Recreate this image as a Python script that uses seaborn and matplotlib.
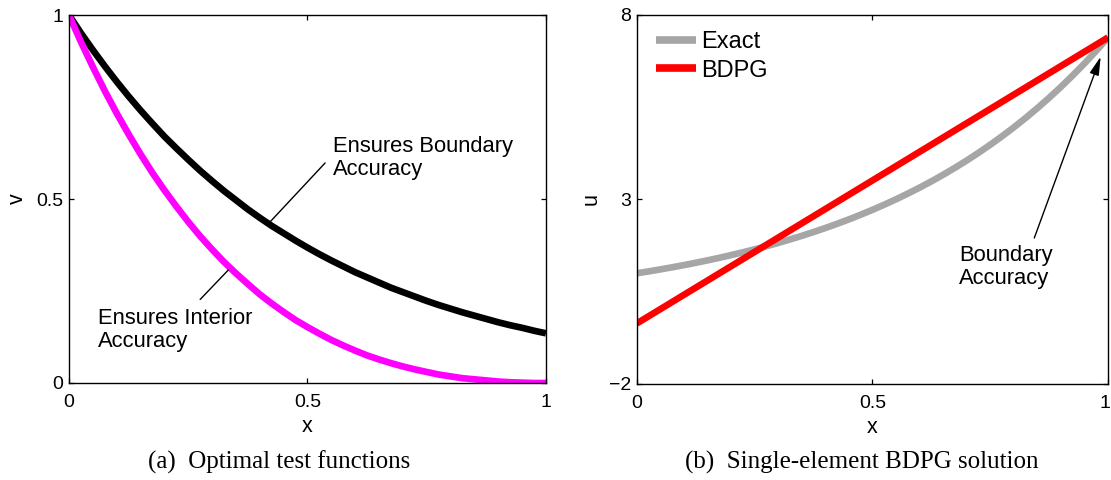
import matplotlib
matplotlib.use("Agg")
import matplotlib.pyplot as plt
import matplotlib.transforms as mtransforms
import seaborn as sns
import pandas as pd

# sample positions along the element
x_pts = [0.0, 0.025, 0.05, 0.075, 0.1, 0.125, 0.15, 0.175, 0.2, 0.225, 0.25,
         0.275, 0.3, 0.325, 0.35, 0.375, 0.4, 0.425, 0.45, 0.475, 0.5,
         0.525, 0.55, 0.575, 0.6, 0.625, 0.65, 0.675, 0.7, 0.725, 0.75,
         0.775, 0.8, 0.825, 0.85, 0.875, 0.9, 0.925, 0.95, 0.975, 1.0]

# (a) optimal test functions
v_boundary = [1.000, 0.951, 0.905, 0.861, 0.819, 0.779, 0.741, 0.705, 0.670, 0.638, 0.607,
              0.577, 0.549, 0.522, 0.497, 0.472, 0.449, 0.427, 0.407, 0.387, 0.368,
              0.350, 0.333, 0.317, 0.301, 0.287, 0.273, 0.259, 0.247, 0.235, 0.223,
              0.212, 0.202, 0.192, 0.183, 0.174, 0.165, 0.157, 0.150, 0.142, 0.135]
v_interior = [1.000, 0.927, 0.859, 0.794, 0.733, 0.676, 0.622, 0.571, 0.524, 0.480, 0.438,
              0.399, 0.363, 0.329, 0.298, 0.269, 0.241, 0.216, 0.193, 0.171, 0.152,
              0.134, 0.117, 0.102, 0.088, 0.075, 0.064, 0.054, 0.045, 0.037, 0.030,
              0.023, 0.018, 0.013, 0.010, 0.007, 0.004, 0.002, 0.001, 0.000, 0.000]

# (b) exact solution and single-element BDPG solution
u_exact = [1.000, 1.051, 1.105, 1.162, 1.221, 1.284, 1.350, 1.419, 1.492, 1.568, 1.649,
           1.733, 1.822, 1.916, 2.014, 2.117, 2.226, 2.340, 2.460, 2.586, 2.718,
           2.858, 3.004, 3.158, 3.320, 3.490, 3.669, 3.857, 4.055, 4.263, 4.482,
           4.712, 4.953, 5.207, 5.474, 5.755, 6.050, 6.360, 6.686, 7.029, 7.389]
x_bdpg = [0.0, 1.0]
u_bdpg = [-0.36, 7.39]

sns.set_style("ticks")
plt.rcParams.update({
    "font.family": ["Liberation Sans", "DejaVu Sans"],
    "text.color": "black",
    "axes.labelcolor": "black",
    "xtick.labelcolor": "black",
    "ytick.labelcolor": "black",
    "xtick.direction": "in",
    "ytick.direction": "in",
    "xtick.top": True,
    "ytick.right": True,
    "xtick.major.size": 3.6,
    "ytick.major.size": 3.6,
    "xtick.major.width": 0.9,
    "ytick.major.width": 0.9,
    "axes.linewidth": 1.0,
    "axes.edgecolor": "black",
    "xtick.color": "black",
    "ytick.color": "black",
    "axes.unicode_minus": True,
    "lines.solid_capstyle": "butt",
    "lines.solid_joinstyle": "round",
})

fig = plt.figure(figsize=(11.11, 4.80), dpi=100)
ax1 = fig.add_axes([0.0621, 0.2021, 0.4293, 0.7666])
ax2 = fig.add_axes([0.5731, 0.2000, 0.4242, 0.7688])

df_a = pd.DataFrame({"x": x_pts, "boundary": v_boundary, "interior": v_interior})
df_b = pd.DataFrame({"x": x_pts, "exact": u_exact})
df_bd = pd.DataFrame({"x": x_bdpg, "bdpg": u_bdpg})

lw = 4.8
sns.lineplot(data=df_a, x="x", y="boundary", ax=ax1, color="black", lw=lw)
sns.lineplot(data=df_a, x="x", y="interior", ax=ax1, color="#FF00FF", lw=lw)

sns.lineplot(data=df_b, x="x", y="exact", ax=ax2, color="#A6A6A6", lw=lw, label="Exact")
sns.lineplot(data=df_bd, x="x", y="bdpg", ax=ax2, color="#FF0000", lw=lw, label="BDPG")

tick_fs = 14
ax1.set_xlim(0, 1)
ax1.set_ylim(0, 1)
ax1.set_xticks([0, 0.5, 1])
ax1.set_xticklabels(["0", "0.5", "1"])
ax1.set_yticks([0, 0.5, 1])
ax1.set_yticklabels(["0", "0.5", "1"])

ax2.set_xlim(0, 1)
ax2.set_ylim(-2, 8)
ax2.set_xticks([0, 0.5, 1])
ax2.set_xticklabels(["0", "0.5", "1"])
ax2.set_yticks([-2, 3, 8])
ax2.set_yticklabels(["\u22122", "3", "8"])

for ax in (ax1, ax2):
    ax.tick_params(axis="x", labelsize=tick_fs, pad=8, labelcolor="black")
    ax.tick_params(axis="y", labelsize=tick_fs, pad=4, labelcolor="black")
    for s in ax.spines.values():
        s.set_visible(True)
        s.set_color("black")
    ax.set_xlabel("x", fontsize=15.5, color="black")
    ax.xaxis.set_label_coords(0.5, -0.09)

# keep the last tick label of the right panel inside the canvas
last = ax2.get_xticklabels()[-1]
last.set_transform(last.get_transform() +
                   mtransforms.ScaledTranslation(-3 / 100, 0, fig.dpi_scale_trans))

ax1.set_ylabel("v", fontsize=15.5, color="black")
ax1.yaxis.set_label_coords(-0.087, 0.5)
ax2.set_ylabel("u", fontsize=15.5, color="black")
ax2.yaxis.set_label_coords(-0.075, 0.5)

ann_fs = 15.8
line_kw = dict(arrowstyle="-", color="black", lw=1.0, shrinkA=0, shrinkB=0)
ax1.annotate("", xy=(0.421, 0.437), xytext=(0.537, 0.598), arrowprops=line_kw)
ax1.text(0.553, 0.672, "Ensures Boundary\nAccuracy", fontsize=ann_fs, color="black",
         ha="left", va="top", linespacing=1.15)
ax1.annotate("", xy=(0.334, 0.307), xytext=(0.275, 0.227), arrowprops=line_kw)
ax1.text(0.061, 0.204, "Ensures Interior\nAccuracy", fontsize=ann_fs, color="black",
         ha="left", va="top", linespacing=1.15)

ax2.annotate("", xy=(0.9845, 6.87), xytext=(0.8436, 1.957),
             arrowprops=dict(arrowstyle="-|>,head_length=0.7,head_width=0.18",
                             color="black", lw=1.0, shrinkA=0, shrinkB=0,
                             mutation_scale=16))
ax2.text(0.6845, 1.78, "Boundary\nAccuracy", fontsize=ann_fs, color="black",
         ha="left", va="top", linespacing=1.15)

leg = ax2.legend(loc="upper left", bbox_to_anchor=(0.021, 0.981), frameon=False,
                 fontsize=17, handlelength=1.7, handletextpad=0.2,
                 labelspacing=0.26, borderaxespad=0.0, borderpad=0.4)
for t in leg.get_texts():
    t.set_color("black")
for h in leg.get_lines():
    h.set_linewidth(5.5)
    h.set_solid_capstyle("butt")

cap_kw = dict(fontsize=18, family=["Liberation Serif", "DejaVu Serif"],
              ha="center", va="center", color="black")
fig.text(279 / 1111, 1 - 462 / 480, "(a)  Optimal test functions", **cap_kw)
fig.text(862 / 1111, 1 - 462 / 480, "(b)  Single-element BDPG solution", **cap_kw)

fig.savefig("out.png", dpi=100)
